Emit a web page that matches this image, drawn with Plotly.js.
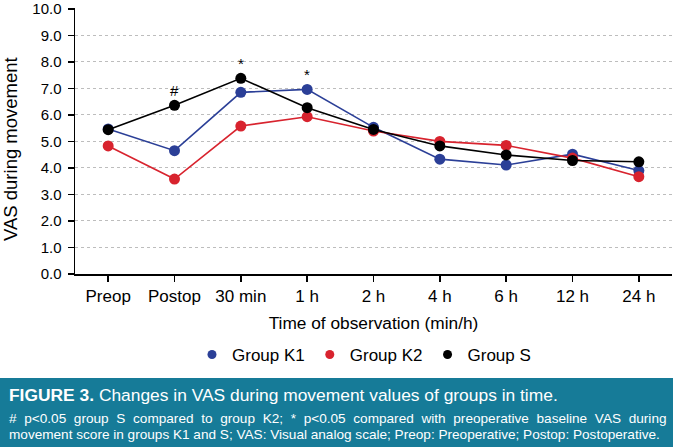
<!DOCTYPE html>
<html>
<head>
<meta charset="utf-8">
<script src="https://cdn.plot.ly/plotly-3.0.1.min.js"></script>
<style>
html,body{margin:0;padding:0;background:#fff;}
#chart{width:673px;height:447px;}
</style>
</head>
<body>
<div id="chart"></div>
<script>
var categories = ["Preop", "Postop", "30 min", "1 h", "2 h", "4 h", "6 h", "12 h", "24 h"];
var groupK1 = [5.47, 4.65, 6.85, 6.96, 5.53, 4.33, 4.11, 4.52, 3.90];
var groupK2 = [4.83, 3.58, 5.58, 5.93, 5.39, 5.00, 4.85, 4.37, 3.67];
var groupS  = [5.44, 6.36, 7.38, 6.27, 5.45, 4.83, 4.49, 4.28, 4.23];
var yTicks = [0, 1, 2, 3, 4, 5, 6, 7, 8, 9, 10];
var yTickLabels = ["0.0", "1.0", "2.0", "3.0", "4.0", "5.0", "6.0", "7.0", "8.0", "9.0", "10.0"];
var seriesNames = ["Group K1", "Group K2", "Group S"];
var marks = [{cat: "Postop", series: "S", text: "#"}, {cat: "30 min", series: "S", text: "*"}, {cat: "1 h", series: "K1", text: "*"}];

var colors = {K1: "#2b3f97", K2: "#d8232e", S: "#000000"};
var seriesData = {K1: groupK1, K2: groupK2, S: groupS};

var W = 673, H = 447, mL = 75, mR = 1, mT = 8, mB = 173;
var pw = W - mL - mR, ph = H - mT - mB;
function px(x) { return (x - mL) / pw; }
function py(y) { return (H - mB - y) / ph; }

var font = "Liberation Sans, Arial, Helvetica, sans-serif";

function lineTrace(key, name) {
  return {
    x: categories, y: seriesData[key], type: "scatter", mode: "lines+markers",
    name: name, showlegend: false, cliponaxis: false,
    line: {color: colors[key], width: 1.6},
    marker: {color: colors[key], size: 11}
  };
}
function legendTrace(key, name) {
  return {
    x: [null], y: [null], type: "scatter", mode: "markers", name: name,
    marker: {color: colors[key], size: 9}, hoverinfo: "skip"
  };
}

var data = [
  lineTrace("K1", seriesNames[0]),
  lineTrace("K2", seriesNames[1]),
  lineTrace("S", seriesNames[2]),
  legendTrace("K1", seriesNames[0]),
  legendTrace("K2", seriesNames[1]),
  legendTrace("S", seriesNames[2])
];

var annotations = marks.map(function (m) {
  var idx = categories.indexOf(m.cat);
  return {
    x: m.cat, y: seriesData[m.series][idx], xref: "x", yref: "y",
    text: m.text, showarrow: false, yshift: 15,
    font: {family: font, size: 15, color: "#000000"}
  };
});

annotations.push({
  xref: "paper", yref: "paper", x: px(10), y: py(149), xanchor: "center", yanchor: "middle",
  text: "VAS during movement", textangle: -90,
  showarrow: false, font: {family: font, size: 18.5, color: "#000000"}
});
annotations.push({
  xref: "paper", yref: "paper", x: px(7), y: py(395), xanchor: "left", yanchor: "middle",
  text: "<b>FIGURE 3.</b> Changes in VAS during movement values of groups in time.",
  showarrow: false, font: {family: font, size: 17.4, color: "#ffffff"}
});
annotations.push({
  xref: "paper", yref: "paper", x: px(7), y: py(418), xanchor: "left", yanchor: "middle",
  text: "<span style=\"word-spacing:3.9px\"># p&lt;0.05 group S compared to group K2; * p&lt;0.05 compared with preoperative baseline VAS during</span>",
  showarrow: false, font: {family: font, size: 13.6, color: "#ffffff"}
});
annotations.push({
  xref: "paper", yref: "paper", x: px(7), y: py(434), xanchor: "left", yanchor: "middle",
  text: "movement score in groups K1 and S; VAS: Visual analog scale; Preop: Preoperative; Postop: Postoperative.",
  showarrow: false, font: {family: font, size: 13.6, color: "#ffffff"}
});

var layout = {
  width: W, height: H,
  margin: {l: mL, r: mR, t: mT, b: mB, pad: 0},
  paper_bgcolor: "#ffffff", plot_bgcolor: "#ffffff",
  font: {family: font, size: 15, color: "#000"},
  showlegend: true,
  legend: {
    orientation: "h", x: px(364), xanchor: "center", y: py(355), yanchor: "middle",
    font: {family: font, size: 17, color: "#000"}, itemwidth: 30, tracegroupgap: 0
  },
  xaxis: {
    type: "category", range: [-0.5, 8.5], showgrid: false, zeroline: false,
    showline: true, linecolor: "#000", linewidth: 1.5,
    ticks: "outside", ticklen: 6, tickwidth: 1.5, tickcolor: "#000",
    tickfont: {family: font, size: 17, color: "#000"},
    title: {text: "Time of observation (min/h)", standoff: 12, font: {family: font, size: 17.3, color: "#000"}},
    fixedrange: true
  },
  yaxis: {
    range: [0, 10.03], tickvals: yTicks, ticktext: yTickLabels,
    ticklabeloverflow: "allow",
    showgrid: true, gridcolor: "#bdbdbd", gridwidth: 1, griddash: "dot",
    zeroline: false, showline: true, linecolor: "#000", linewidth: 1.5,
    ticks: "outside", ticklen: 6, tickwidth: 1.5, tickcolor: "#000",
    ticklabelstandoff: 3,
    tickfont: {family: font, size: 15, color: "#000"},
    fixedrange: true
  },
  shapes: [{
    type: "rect", xref: "paper", yref: "paper",
    x0: px(0), x1: px(673), y0: py(378), y1: py(447),
    fillcolor: "#167b98", line: {width: 0}, layer: "below"
  }],
  annotations: annotations
};

Plotly.newPlot("chart", data, layout, {displayModeBar: false, staticPlot: true});
</script>
</body>
</html>
